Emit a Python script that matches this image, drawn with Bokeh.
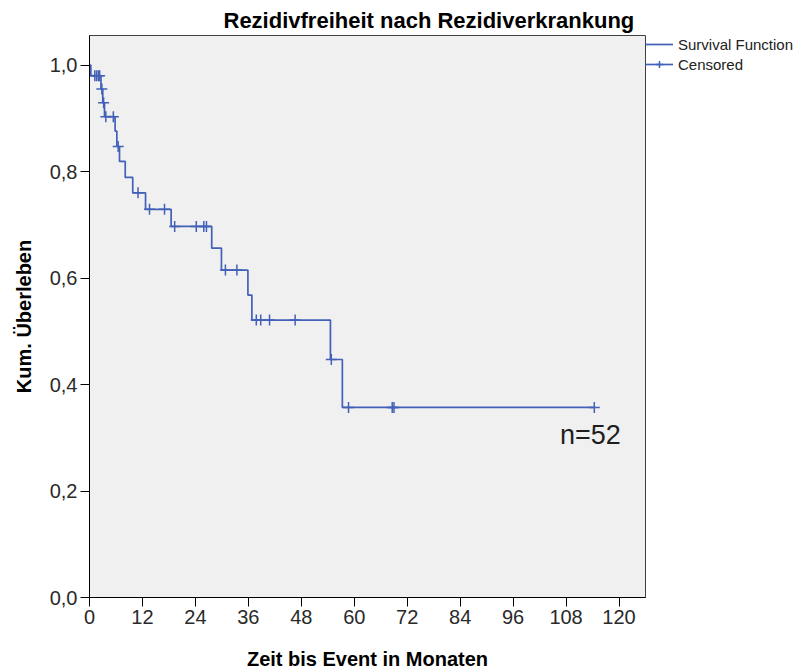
import numpy as np
from bokeh.plotting import figure
from bokeh.models import (Range1d, FixedTicker, CustomJSTickFormatter, Label,
                          Legend, LegendItem, Title)
from bokeh.embed import file_html
from bokeh.resources import INLINE

# ---- data ----
step_times = [0.0, 0.3, 2.6, 3.0, 3.4, 5.8, 6.2, 6.8, 8.1, 9.8, 12.7, 18.5,
              27.7, 29.9, 35.9, 36.8, 54.6, 57.3, 114.4]
step_surv = [1.000, 0.980, 0.955, 0.929, 0.903, 0.876, 0.847, 0.819, 0.789,
             0.760, 0.729, 0.697, 0.656, 0.615, 0.568, 0.521, 0.447, 0.357,
             0.357]
censor_times = [1.2, 1.6, 2.0, 2.3, 2.8, 3.2, 3.7, 5.4, 6.5, 11.0, 13.6, 17.0,
                19.3, 24.2, 25.9, 26.5, 30.8, 33.4, 37.8, 38.8, 40.8, 46.6,
                54.8, 58.7, 68.6, 69.0, 114.4]
x_ticks = [0, 12, 24, 36, 48, 60, 72, 84, 96, 108, 120]
y_ticks = [0.0, 0.2, 0.4, 0.6, 0.8, 1.0]
title_text = "Rezidivfreiheit nach Rezidiverkrankung"
x_label = "Zeit bis Event in Monaten"
y_label = "Kum. Überleben"
n_text = "n=52"
legend_labels = ["Survival Function", "Censored"]

idx = np.searchsorted(step_times, censor_times, side="right") - 1
censor_surv = list(np.array(step_surv)[idx])

LINE = "#4260b8"
FONT = "Liberation Sans"

p = figure(width=796, height=668, frame_width=556, frame_height=562,
           min_border_left=89, min_border_right=151, min_border_top=35,
           min_border_bottom=71, output_backend="svg", toolbar_location=None,
           x_range=Range1d(0, 126), y_range=Range1d(0, 1.0555))

p.background_fill_color = "#f0f0f0"
p.border_fill_color = "white"
p.outline_line_color = "#404040"
p.outline_line_width = 1
p.grid.visible = False

step_r = p.step(step_times, step_surv, mode="after", line_color=LINE,
                line_width=1.7)
cens_r = p.scatter(censor_times, censor_surv, marker="cross", size=11,
                   line_color=LINE, line_width=1.5)

for ax in (p.xaxis[0], p.yaxis[0]):
    ax.axis_line_color = "black"
    ax.major_tick_line_color = "black"
    ax.minor_tick_line_color = None
    ax.major_tick_out = 9
    ax.major_tick_in = 0
    ax.major_label_text_font = FONT
    ax.major_label_text_font_size = "20px"
    ax.major_label_text_color = "#2a2a2a"
    ax.axis_label_text_font = FONT
    ax.axis_label_text_font_size = "20px"
    ax.axis_label_text_font_style = "bold"
    ax.axis_label_text_color = "black"

p.xaxis.ticker = FixedTicker(ticks=x_ticks)
p.yaxis.ticker = FixedTicker(ticks=y_ticks)
p.yaxis.formatter = CustomJSTickFormatter(
    code="return tick.toFixed(1).replace('.', ',');")
p.xaxis.major_label_standoff = 3
p.yaxis.major_label_standoff = 3
p.xaxis.axis_label = x_label
p.yaxis.axis_label = y_label
p.xaxis.axis_label_standoff = 21
p.yaxis.axis_label_standoff = 12

p.add_layout(Title(text=title_text, align="left", offset=134, standoff=6,
                   text_font=FONT, text_font_size="22px",
                   text_font_style="bold", text_color="black"), "above")
p.add_layout(Label(x=106.6, y=0.306, text=n_text, text_align="left",
                   text_baseline="alphabetic", text_font=FONT,
                   text_font_size="27px", text_color="#1e1e1e"))

legend = Legend(items=[LegendItem(label=legend_labels[0], renderers=[step_r]),
                       LegendItem(label=legend_labels[1],
                                  renderers=[step_r, cens_r])],
                location="top_left", margin=0, padding=3, spacing=2,
                glyph_width=28, glyph_height=18, label_height=18,
                label_standoff=5, label_text_font=FONT,
                label_text_font_size="15px", label_text_color="#222222",
                border_line_color=None, background_fill_alpha=0)
p.add_layout(legend, "right")

open("out.html", "w").write(file_html(p, INLINE))
